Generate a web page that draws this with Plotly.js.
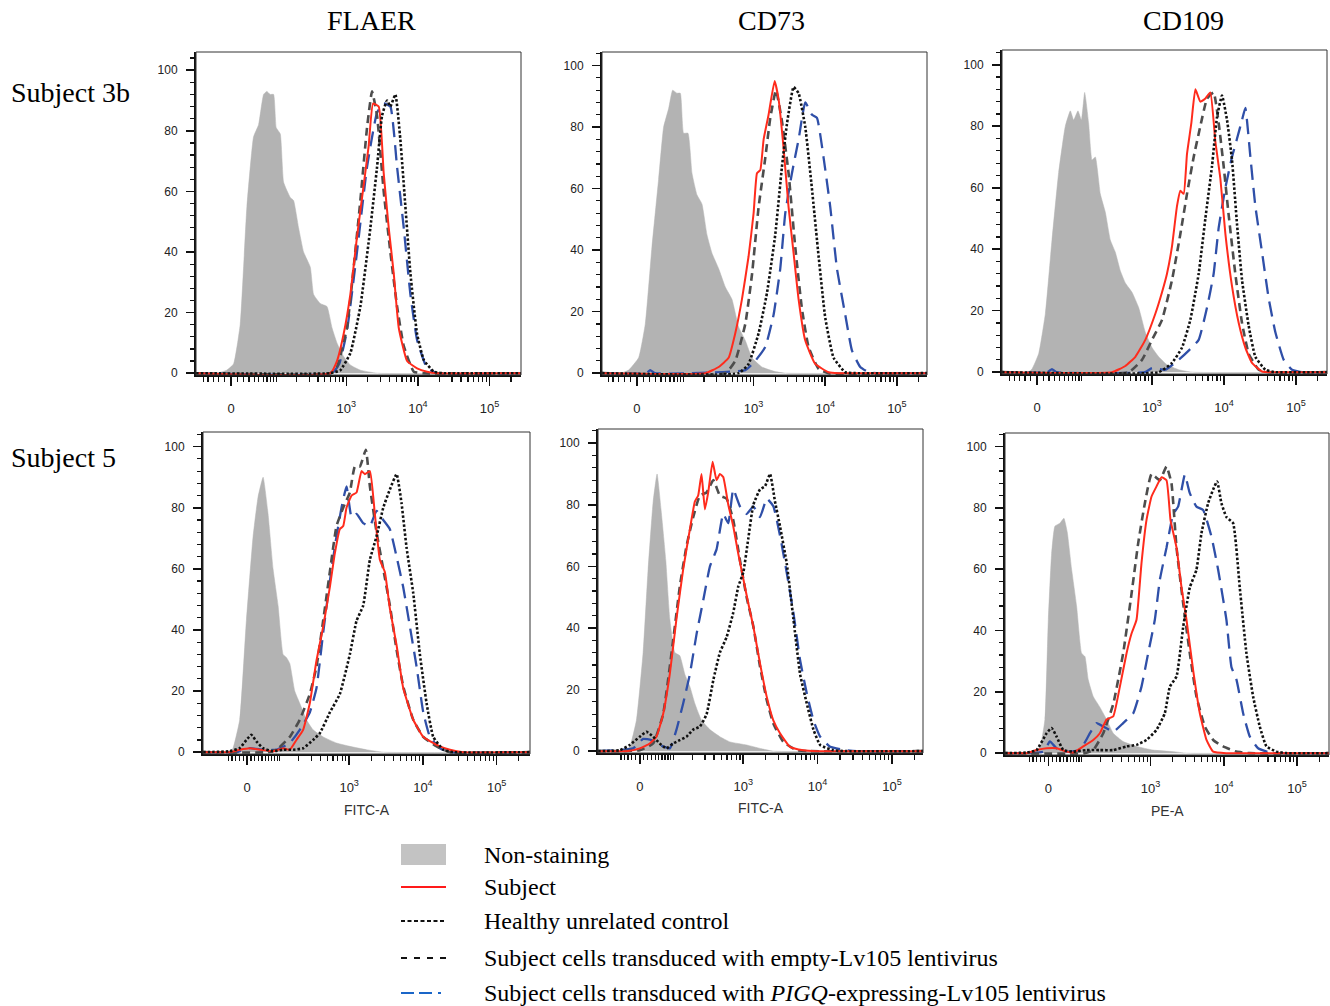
<!DOCTYPE html>
<html>
<head>
<meta charset="utf-8">
<script src="https://cdn.plot.ly/plotly-3.0.1.min.js"></script>
<style>html,body{margin:0;padding:0;background:#fff;}#chart{width:1330px;height:1006px;}</style>
</head>
<body>
<div id="chart"></div>
<script>
// ---------- labels ----------
const columnTitles = ["FLAER", "CD73", "CD109"];
const rowTitles = ["Subject 3b", "Subject 5"];
const xAxisTitles = ["FITC-A", "FITC-A", "PE-A"];
const seriesNames = ["Non-staining", "Subject", "Healthy unrelated control",
  "Subject cells transduced with empty-Lv105 lentivirus",
  "Subject cells transduced with <i>PIGQ</i>-expressing-Lv105 lentivirus"];
const xTickText = ["0", "10<sup>3</sup>", "10<sup>4</sup>", "10<sup>5</sup>"];
const yTickVals = [0, 20, 40, 60, 80, 100];
// display position (in decades) of the value 0 on each biexponential axis, panels A..F
const zeroPos = [1.39, 1.372, 1.403, 1.615, 1.607, 1.605];
// minor tick raw intensities
const minorRaw = [-50,-40,-30,-20,-10,10,20,30,40,50,60,70,80,90,100,200,300,400,500,600,700,800,900,
  2000,3000,4000,5000,6000,7000,8000,9000,20000,30000,40000,50000,60000,70000,80000,90000,200000];

// ---------- data: [display position (10^3 -> 3), % of max] ----------
// Subject 3b, FLAER
const A_non = [[0.90,0],[1.19,0],[1.33,1],[1.424,3],[1.517,16],[1.611,55],[1.704,78],[1.774,82],[1.844,92],[1.890,93],[1.937,92],[1.984,92],[2.021,81],[2.077,79],[2.124,63],[2.217,58],[2.263,57],[2.333,48],[2.403,40],[2.497,35],[2.543,26],[2.636,23],[2.730,22],[2.800,15],[2.869,10],[2.963,5.5],[3.056,2.7],[3.196,1],[3.429,0],[5.44,0]];
const A_sub = [[0.90,0],[2.776,0],[2.869,4],[2.963,13],[3.056,26],[3.149,45],[3.242,62],[3.312,75],[3.373,89],[3.452,88],[3.522,66],[3.592,48],[3.662,33],[3.732,15],[3.849,4],[3.988,1.6],[4.128,0.5],[4.268,0],[5.44,0]];
const A_healthy = [[0.90,0],[2.776,0],[2.916,1],[3.056,6.6],[3.196,22],[3.336,48],[3.429,68],[3.499,85],[3.569,90],[3.615,88],[3.685,92],[3.755,77],[3.825,55],[3.895,33],[3.988,13],[4.082,4.4],[4.221,0.5],[4.361,0],[5.44,0]];
const A_empty = [[0.90,0],[2.78,0],[2.869,2],[3.009,15],[3.103,35],[3.196,57],[3.289,81],[3.359,93],[3.429,85],[3.522,60],[3.615,40],[3.709,22],[3.802,9],[3.942,0.5],[4.082,0],[5.44,0]];
const A_pigq = [[0.90,0],[2.80,0],[2.90,3],[3.009,14],[3.149,40],[3.289,68],[3.429,86],[3.522,89],[3.615,88],[3.709,68],[3.802,48],[3.895,26],[3.988,11],[4.128,1.6],[4.268,0],[5.44,0]];
// Subject 3b, CD73
const B_non = [[0.884,0],[1.15,0],[1.256,1],[1.395,5],[1.488,16],[1.581,41],[1.674,63],[1.744,80],[1.814,86],[1.870,92],[1.930,91],[1.977,91],[2.023,78],[2.084,78],[2.140,65],[2.209,58],[2.279,55],[2.349,45],[2.419,39],[2.512,34],[2.605,28],[2.698,24],[2.791,15],[2.884,10.6],[2.977,5],[3.116,2],[3.302,0.5],[3.442,0],[5.42,0]];
const B_sub = [[0.884,0],[2.326,0],[2.512,2],[2.651,5],[2.744,13],[2.837,24],[2.930,38],[3.0,52],[3.047,65],[3.093,66],[3.140,76],[3.209,84],[3.293,95],[3.349,89],[3.419,73],[3.488,54],[3.558,39],[3.628,24],[3.721,10.6],[3.860,3],[4.047,0.3],[4.186,0],[5.42,0]];
const B_healthy = [[0.884,0],[2.791,0],[2.930,3],[3.070,13],[3.186,26],[3.302,45],[3.395,67],[3.465,81],[3.558,93],[3.628,91],[3.721,80],[3.814,60],[3.907,38],[4.0,18],[4.116,5],[4.279,0.3],[4.419,0],[5.42,0]];
const B_empty = [[0.884,0],[2.605,0],[2.744,4],[2.884,16],[2.977,32],[3.070,54],[3.163,70],[3.233,83],[3.312,92],[3.395,82],[3.488,65],[3.581,41],[3.674,21],[3.767,8.5],[3.907,1.4],[4.047,0],[5.42,0]];
const B_pigq = [[0.884,0],[1.5,0],[1.557,1],[1.62,0],[2.884,1],[3.023,4],[3.163,8.5],[3.279,19],[3.372,34],[3.442,52],[3.535,65],[3.628,76],[3.721,88],[3.814,84],[3.884,83],[3.977,70],[4.070,54],[4.163,34],[4.279,19],[4.372,7.4],[4.488,2],[4.605,0.3],[4.744,0],[5.42,0]];
// Subject 3b, CD109
const C_non = [[0.917,0],[1.28,0],[1.333,1],[1.426,6],[1.519,19],[1.611,43],[1.704,65],[1.796,80],[1.866,85],[1.912,82],[1.972,85],[2.019,82],[2.065,91],[2.120,81],[2.167,69],[2.213,70],[2.282,58],[2.352,52],[2.421,43],[2.491,39],[2.560,33],[2.630,29],[2.722,26],[2.815,21],[2.907,13],[3.0,8],[3.093,5],[3.208,2.4],[3.370,0.8],[3.556,0],[5.43,0]];
const C_sub = [[0.917,0],[2.444,0],[2.630,2],[2.769,5],[2.907,10.5],[3.046,19],[3.139,26],[3.208,32],[3.278,41],[3.347,54],[3.394,59],[3.440,58],[3.486,71],[3.546,81],[3.602,92],[3.671,88],[3.741,89],[3.810,91],[3.880,75],[3.949,63],[4.019,45],[4.111,28],[4.204,16],[4.296,8],[4.389,3],[4.528,0.2],[4.667,0],[5.43,0]];
const C_healthy = [[0.917,0],[3.093,0],[3.278,3],[3.417,8],[3.532,17],[3.648,32],[3.741,50],[3.833,67],[3.903,83],[3.972,90],[4.042,82],[4.111,69],[4.181,48],[4.250,30],[4.343,15],[4.435,5],[4.574,0.8],[4.713,0],[5.43,0]];
const C_empty = [[0.917,0],[2.676,0],[2.861,4],[3.0,10.5],[3.139,17],[3.278,30],[3.394,45],[3.486,58],[3.579,70],[3.671,80],[3.764,89],[3.856,91],[3.926,81],[3.995,67],[4.065,51],[4.157,32],[4.250,16],[4.343,6],[4.481,0.8],[4.620,0],[5.43,0]];
const C_pigq = [[0.917,0],[1.55,0],[1.611,1],[1.67,0],[2.9,0],[3.0,1.3],[3.185,0.8],[3.370,4],[3.509,7],[3.648,10.5],[3.764,21],[3.856,32],[3.926,47],[4.019,60],[4.111,70],[4.181,76],[4.250,82],[4.296,86],[4.366,70],[4.435,54],[4.528,39],[4.620,24],[4.713,13],[4.829,4],[4.944,0.8],[5.083,0],[5.43,0]];
// Subject 5, FLAER
const D_non = [[1.018,0],[1.38,0],[1.425,1.3],[1.516,10.6],[1.606,43],[1.697,70.6],[1.765,83.6],[1.833,90],[1.900,78],[1.968,60],[2.036,48],[2.104,32],[2.149,31],[2.195,29],[2.262,20],[2.330,16],[2.421,10.6],[2.511,7.3],[2.647,5],[2.828,3],[3.009,1.9],[3.235,0.8],[3.462,0],[5.45,0]];
const D_sub = [[1.018,0],[1.380,0],[1.516,0.8],[1.652,1.3],[1.787,0.8],[1.968,0.3],[2.104,1.3],[2.195,0.8],[2.285,4],[2.376,7.3],[2.466,16],[2.557,30],[2.647,41],[2.738,54],[2.805,65],[2.873,73],[2.919,74],[2.964,80],[3.032,84],[3.100,85],[3.167,92],[3.213,91],[3.281,92],[3.348,78],[3.416,63],[3.484,59],[3.552,47],[3.643,35],[3.733,21],[3.869,10.6],[4.005,5],[4.186,2.4],[4.367,0.8],[4.548,0],[5.45,0]];
const D_healthy = [[1.018,0],[1.380,0.3],[1.516,1.3],[1.606,4],[1.674,5.7],[1.742,3.5],[1.833,1.3],[1.968,0.3],[2.104,0.8],[2.240,0.8],[2.376,1.3],[2.511,4],[2.602,6.2],[2.738,13],[2.873,19],[3.009,32],[3.100,43],[3.190,48],[3.281,63],[3.371,70.6],[3.462,80],[3.552,86],[3.643,91],[3.710,81.5],[3.778,67],[3.869,52],[3.959,32],[4.050,16],[4.140,5],[4.276,0.8],[4.412,0],[5.45,0]];
const D_empty = [[1.018,0],[1.9,0],[2.014,0.8],[2.195,5],[2.330,10.6],[2.466,19],[2.557,28],[2.647,43],[2.738,59],[2.828,74],[2.919,80],[3.009,85],[3.077,93.5],[3.145,93.5],[3.226,99],[3.281,87],[3.371,72],[3.462,60],[3.552,48],[3.643,33.5],[3.733,21.5],[3.869,10.6],[4.005,5],[4.186,1.9],[4.367,0],[5.45,0]];
const D_pigq = [[1.018,0],[1.471,0],[1.652,1.3],[1.833,0.8],[2.014,0.8],[2.195,3],[2.330,7.3],[2.466,13],[2.557,21],[2.647,39],[2.738,56],[2.828,70.6],[2.896,80],[2.964,87],[3.032,77],[3.100,78],[3.190,75],[3.281,74],[3.371,79],[3.462,76],[3.552,73],[3.643,64],[3.733,54],[3.824,41],[3.914,28],[4.005,13],[4.095,5],[4.231,1.3],[4.367,0],[5.45,0]];
// Subject 5, CD73
const E_non = [[1.045,0],[1.40,0],[1.472,1.4],[1.562,10],[1.652,32],[1.719,59],[1.787,81],[1.840,90],[1.899,77],[1.957,62],[2.011,43],[2.079,32],[2.146,31],[2.213,25],[2.281,21],[2.348,15.5],[2.438,10],[2.551,7],[2.685,4.7],[2.820,3],[3.045,2],[3.225,0.9],[3.404,0],[5.42,0]];
const E_sub = [[1.045,0],[1.427,0],[1.607,0.9],[1.742,2.5],[1.831,4.7],[1.921,12],[2.011,25],[2.101,43],[2.191,59],[2.281,72],[2.348,81],[2.393,83],[2.438,90],[2.483,78.5],[2.528,84],[2.587,94],[2.640,88],[2.685,90],[2.730,89],[2.798,80],[2.865,73],[2.933,64],[3.0,56],[3.067,48],[3.135,40.5],[3.225,28.5],[3.315,17.7],[3.404,10],[3.494,5.8],[3.629,1.4],[3.809,0.3],[3.989,0],[5.42,0]];
const E_healthy = [[1.045,0],[1.337,0.3],[1.472,2],[1.607,4.7],[1.697,6.3],[1.787,4.7],[1.876,2.5],[1.966,0.9],[2.056,2.5],[2.146,3.6],[2.236,4.7],[2.326,7],[2.416,8],[2.506,12],[2.596,23],[2.685,32],[2.775,37],[2.865,45],[2.933,53.5],[3.0,58],[3.067,69],[3.135,80],[3.225,85],[3.292,86],[3.360,90],[3.427,81],[3.494,73],[3.584,61],[3.674,43],[3.764,25],[3.854,15.5],[3.944,7],[4.034,2],[4.213,0.3],[4.393,0],[5.42,0]];
const E_empty = [[1.045,0],[1.607,0.3],[1.787,2.5],[1.921,12],[2.056,36],[2.146,53.5],[2.236,66.6],[2.326,76],[2.416,83],[2.506,84],[2.596,88],[2.685,83],[2.775,82],[2.865,75],[2.955,62],[3.045,50],[3.135,40.5],[3.225,27.5],[3.315,16.6],[3.404,9],[3.539,3],[3.719,0.3],[3.899,0],[5.42,0]];
const E_pigq = [[1.045,0],[1.517,0.9],[1.652,4],[1.764,3.6],[1.876,2],[2.011,0.9],[2.101,7],[2.191,15.5],[2.281,25],[2.371,38],[2.461,49],[2.551,60],[2.640,65.5],[2.730,77],[2.798,74],[2.865,85],[2.955,79.5],[3.045,77],[3.135,79.5],[3.225,76],[3.315,82],[3.404,79.5],[3.494,70],[3.584,58],[3.674,45],[3.764,29.6],[3.854,18.8],[3.944,10],[4.034,4.7],[4.169,1.4],[4.393,0.3],[4.528,0],[5.42,0]];
// Subject 5, CD109
const F_non = [[1.014,0],[1.4,0.5],[1.491,2],[1.559,11],[1.605,43.5],[1.65,65],[1.695,74],[1.764,75],[1.818,76.6],[1.864,72],[1.923,60],[1.991,48],[2.059,32.6],[2.105,31.5],[2.15,24],[2.218,18.5],[2.309,15],[2.4,11],[2.491,6.5],[2.627,3.8],[2.809,2.2],[3.036,1],[3.309,0.5],[3.491,0],[5.44,0]];
const F_sub = [[1.014,0],[1.309,0],[1.445,1],[1.582,1.6],[1.718,1.6],[1.855,0.5],[1.945,0.2],[2.082,2.2],[2.218,4.3],[2.309,6.5],[2.4,11],[2.491,12],[2.582,21.7],[2.673,32.6],[2.741,39],[2.809,43.5],[2.877,62],[2.945,76],[3.014,83.7],[3.082,87],[3.15,90],[3.218,89],[3.273,76],[3.355,67],[3.423,54],[3.491,43.5],[3.582,27],[3.673,13],[3.764,4.3],[3.855,0.5],[4.036,0],[5.44,0]];
const F_healthy = [[1.014,0],[1.309,0.2],[1.445,1],[1.582,6.5],[1.65,8.2],[1.718,5.4],[1.809,1],[1.945,0.5],[2.127,1],[2.309,1],[2.491,1],[2.673,2.2],[2.809,2.7],[2.945,4.3],[3.082,7.6],[3.195,13],[3.264,21.7],[3.355,25],[3.445,41],[3.536,54],[3.627,59.8],[3.695,71.7],[3.786,81.5],[3.855,86],[3.909,88.6],[3.968,81.5],[4.036,77],[4.127,75],[4.218,54],[4.309,32.6],[4.4,18.5],[4.491,8.7],[4.582,2.2],[4.718,0.5],[4.855,0],[5.44,0]];
const F_empty = [[1.014,0],[2.1,0],[2.218,1],[2.355,6.5],[2.491,16],[2.627,32.6],[2.741,52],[2.832,68.5],[2.923,81.5],[3.014,91],[3.127,89],[3.218,93.5],[3.286,88],[3.355,67],[3.445,49],[3.536,32.6],[3.627,18.5],[3.741,8.7],[3.855,4.3],[3.991,2.2],[4.173,0.5],[4.355,0],[5.44,0]];
const F_pigq = [[1.014,0],[1.536,0.5],[1.627,3.8],[1.718,1.6],[1.855,0.5],[2.036,1],[2.173,6.5],[2.264,9.8],[2.355,8.7],[2.491,7],[2.627,9.8],[2.764,13],[2.877,21.7],[2.968,32.6],[3.059,43.5],[3.127,56.5],[3.218,67],[3.309,78],[3.377,80.4],[3.468,90.8],[3.536,84.8],[3.627,80.4],[3.718,79.3],[3.832,70.6],[3.923,59.8],[4.036,43.5],[4.105,28],[4.173,24],[4.264,13],[4.355,5.4],[4.468,1.6],[4.627,0.2],[4.764,0],[5.44,0]];

// ---------- layout geometry (pixels) ----------
const W = 1330, H = 1006;
const panelPx = [ // [left, right, top, bottom]
  [196, 521, 52, 375], [602, 927, 52, 375], [1002, 1327, 50, 374],
  [203, 530, 432, 754], [598, 923, 429, 753], [1005, 1329, 433, 755]];
const xRanges = [[0.90,5.44],[0.884,5.42],[0.917,5.43],[1.018,5.452],[1.045,5.418],[1.014,5.436]];
const yRanges = [[-0.6,106],[-0.6,104.4],[-0.6,104.8],[-0.6,104.8],[-0.6,104.6],[-0.6,104.4]];

const panels = [
  [A_non, A_sub, A_healthy, A_empty, A_pigq],
  [B_non, B_sub, B_healthy, B_empty, B_pigq],
  [C_non, C_sub, C_healthy, C_empty, C_pigq],
  [D_non, D_sub, D_healthy, D_empty, D_pigq],
  [E_non, E_sub, E_healthy, E_empty, E_pigq],
  [F_non, F_sub, F_healthy, F_empty, F_pigq]];

const biex = (v, z0) => z0 + Math.asinh(v / (2 * Math.pow(10, z0))) / Math.LN10;

const styles = {
  non: {fill: "#b3b3b3"},
  sub: {color: "#ff2b1c", width: 2, dash: "solid"},
  healthy: {color: "#111111", width: 2.6, dash: "2.5px,2px"},
  empty: {color: "#4d4d4d", width: 2.6, dash: "8px,5px"},
  pigq: {color: "#2f4fa8", width: 2.3, dash: "15px,8px"}
};

const traces = [];
const layout = {
  width: W, height: H, autosize: false,
  margin: {l: 0, r: 0, t: 0, b: 0},
  paper_bgcolor: "#fff", plot_bgcolor: "#fff",
  showlegend: false,
  annotations: [], shapes: []
};
const px2x = p => p / W, px2y = p => 1 - p / H;

panels.forEach((series, i) => {
  const n = i + 1;
  const xa = "x" + (n === 1 ? "" : n), ya = "y" + (n === 1 ? "" : n);
  const xk = "xaxis" + (n === 1 ? "" : n), yk = "yaxis" + (n === 1 ? "" : n);
  const [l, r, t, b] = panelPx[i];
  const z0 = zeroPos[i];
  const xs = s => s.map(p => p[0]), ys = s => s.map(p => p[1]);
  // non-staining (filled)
  traces.push({x: xs(series[0]), y: ys(series[0]), xaxis: xa, yaxis: ya, type: "scatter", mode: "lines",
    fill: "tozeroy", fillcolor: styles.non.fill, line: {color: styles.non.fill, width: 0.5, shape: "spline", smoothing: 0.4}, name: seriesNames[0]});
  const order = [[4, "pigq"], [3, "empty"], [1, "sub"], [2, "healthy"]];
  order.forEach(([k, key]) => {
    const st = styles[key];
    traces.push({x: xs(series[k]), y: ys(series[k]), xaxis: xa, yaxis: ya, type: "scatter", mode: "lines",
      line: {color: st.color, width: st.width, dash: st.dash, shape: "spline", smoothing: 0.4}, name: seriesNames[k]});
  });
  layout[xk] = {
    domain: [px2x(l), px2x(r)], range: xRanges[i], anchor: ya,
    tickmode: "array", tickvals: [z0, 3, 4, 5], ticktext: xTickText,
    ticks: "outside", ticklen: 9, tickwidth: 1.6, tickcolor: "#111",
    showline: true, linewidth: 2, linecolor: "#111", mirror: false,
    showgrid: false, zeroline: false, ticklabelstandoff: 11,
    tickfont: {family: "Liberation Sans, Arial, sans-serif", size: 13, color: "#222"},
    minor: {tickmode: "array", tickvals: minorRaw.map(v => biex(v, z0)), ticks: "outside",
      ticklen: 5, tickwidth: 1.2, tickcolor: "#111"},
    fixedrange: true
  };
  layout[yk] = {
    domain: [px2y(b), px2y(t)], range: yRanges[i], anchor: xa,
    tickmode: "array", tickvals: yTickVals,
    ticks: "outside", ticklen: 8, tickwidth: 1.6, tickcolor: "#111",
    showline: true, linewidth: 2, linecolor: "#111", mirror: false,
    showgrid: false, zeroline: false, ticklabelstandoff: 6,
    tickfont: {family: "Liberation Sans, Arial, sans-serif", size: 12, color: "#222"},
    minor: {tickmode: "linear", tick0: 0, dtick: 4, ticks: "outside", ticklen: 4, tickwidth: 1.2, tickcolor: "#111"},
    fixedrange: true
  };
  layout.shapes.push({type: "rect", xref: xa + " domain", yref: ya + " domain", x0: 0, x1: 1, y0: 0, y1: 1,
    line: {color: "#333", width: 1}, fillcolor: "rgba(0,0,0,0)", layer: "above"});
  if (i >= 3) {
    layout.annotations.push({text: xAxisTitles[i - 3], xref: xa + " domain", x: 0.5, yref: "paper",
      y: px2y([810, 808, 811][i - 3]), showarrow: false, xanchor: "center", yanchor: "middle",
      font: {family: "Liberation Sans, Arial, sans-serif", size: 14, color: "#333"}});
  }
});

// column and row titles
const serif = "Liberation Serif, Times New Roman, serif";
[372, 771, 1183].forEach((cx, j) => layout.annotations.push({text: columnTitles[j], xref: "paper", yref: "paper",
  x: px2x(cx), y: px2y(20), showarrow: false, xanchor: "center", yanchor: "middle", font: {family: serif, size: 28, color: "#000"}}));
[92, 458].forEach((cy, j) => layout.annotations.push({text: rowTitles[j], xref: "paper", yref: "paper",
  x: px2x(9), y: px2y(cy), showarrow: false, xanchor: "left", yanchor: "middle", font: {family: serif, size: 28, color: "#000"}}));

// legend
const legY = [855, 887, 921, 958, 993];
const keyL = 401, keyR = 446;
layout.shapes.push({type: "rect", xref: "paper", yref: "paper", x0: px2x(keyL), x1: px2x(keyR),
  y0: px2y(865), y1: px2y(844), fillcolor: "#c3c3c3", line: {width: 0}});
const keyLines = [null,
  {color: "#ff1a1a", width: 2.2, dash: "solid"},
  {color: "#111", width: 1.8, dash: "4px,2.5px"},
  {color: "#111", width: 1.8, dash: "6px,7px"},
  {color: "#1a66c8", width: 2.2, dash: "13px,5px,13px,6px,3px,10px"}];
keyLines.forEach((ln, k) => { if (!ln) return;
  layout.shapes.push({type: "line", xref: "paper", yref: "paper", x0: px2x(keyL), x1: px2x(keyR),
    y0: px2y(legY[k]), y1: px2y(legY[k]), line: ln});
});
seriesNames.forEach((nm, k) => layout.annotations.push({text: nm, xref: "paper", yref: "paper",
  x: px2x(482), y: px2y(legY[k]), showarrow: false, xanchor: "left", yanchor: "middle",
  font: {family: serif, size: 24, color: "#000"}}));

Plotly.newPlot("chart", traces, layout, {staticPlot: true, displayModeBar: false});
</script>
</body>
</html>
